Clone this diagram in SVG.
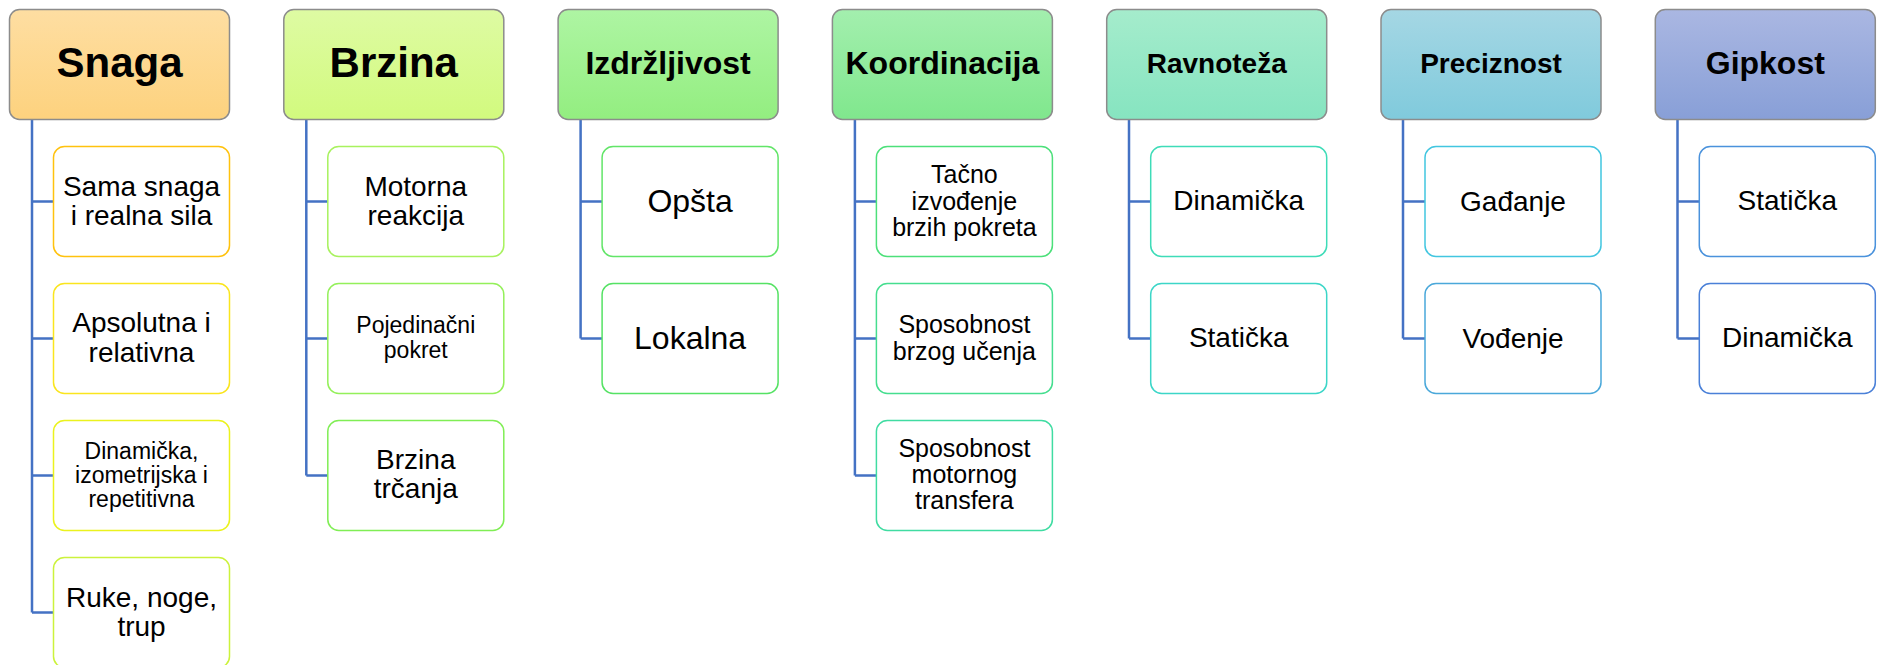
<svg xmlns="http://www.w3.org/2000/svg" width="1878" height="665" viewBox="0 0 1878 665">
<defs>
<linearGradient id="g0" x1="0" y1="0" x2="0" y2="1"><stop offset="0" stop-color="#FEDEA2"/><stop offset="1" stop-color="#FDD27E"/></linearGradient>
<linearGradient id="g1" x1="0" y1="0" x2="0" y2="1"><stop offset="0" stop-color="#DEFBA3"/><stop offset="1" stop-color="#D2FA7E"/></linearGradient>
<linearGradient id="g2" x1="0" y1="0" x2="0" y2="1"><stop offset="0" stop-color="#AEF5A3"/><stop offset="1" stop-color="#93EE80"/></linearGradient>
<linearGradient id="g3" x1="0" y1="0" x2="0" y2="1"><stop offset="0" stop-color="#A3EFAE"/><stop offset="1" stop-color="#80E78D"/></linearGradient>
<linearGradient id="g4" x1="0" y1="0" x2="0" y2="1"><stop offset="0" stop-color="#A5ECCC"/><stop offset="1" stop-color="#86E4C0"/></linearGradient>
<linearGradient id="g5" x1="0" y1="0" x2="0" y2="1"><stop offset="0" stop-color="#A5D7E4"/><stop offset="1" stop-color="#80CADC"/></linearGradient>
<linearGradient id="g6" x1="0" y1="0" x2="0" y2="1"><stop offset="0" stop-color="#AAB7E2"/><stop offset="1" stop-color="#889FD7"/></linearGradient>
</defs>
<style>
.hd{stroke:#8C8C8C;stroke-width:1.5}
.ch{fill:#FFFFFF;stroke-width:1.5}
.conn{fill:none;stroke:#4472C4;stroke-width:2.5}
text{font-family:"Liberation Sans",Arial,sans-serif;fill:#000;text-anchor:middle}
.ht{font-weight:bold}
</style>
<rect width="1878" height="665" fill="#FFFFFF"/>
<g id="connectors">
<path class="conn" d="M32 119V612.5M32 201.5H53M32 338.5H53M32 475.5H53M32 612.5H53"/>
<path class="conn" d="M306.3 119V475.5M306.3 201.5H328M306.3 338.5H328M306.3 475.5H328"/>
<path class="conn" d="M580.6 119V338.5M580.6 201.5H602M580.6 338.5H602"/>
<path class="conn" d="M854.9 119V475.5M854.9 201.5H876M854.9 338.5H876M854.9 475.5H876"/>
<path class="conn" d="M1129 119V338.5M1129 201.5H1151M1129 338.5H1151"/>
<path class="conn" d="M1403 119V338.5M1403 201.5H1425M1403 338.5H1425"/>
<path class="conn" d="M1677.5 119V338.5M1677.5 201.5H1699M1677.5 338.5H1699"/>
</g>
<g id="snaga"><rect class="hd" x="9.5" y="9.5" width="220" height="110" rx="10" fill="url(#g0)"/><text class="ht" x="119.5" y="77" font-size="42">Snaga</text></g>
<g id="snaga-1"><rect class="ch" x="53.5" y="146.5" width="176" height="110" rx="11" stroke="#FFC20E"/><text x="141.5" y="196" font-size="28">Sama snaga</text><text x="141.5" y="225" font-size="28">i realna sila</text></g>
<g id="snaga-2"><rect class="ch" x="53.5" y="283.5" width="176" height="110" rx="11" stroke="#FAE51E"/><text x="141.5" y="332" font-size="28">Apsolutna i</text><text x="141.5" y="362" font-size="28">relativna</text></g>
<g id="snaga-3"><rect class="ch" x="53.5" y="420.5" width="176" height="110" rx="11" stroke="#EBF21E"/><text x="141.5" y="459" font-size="23">Dinamička,</text><text x="141.5" y="483" font-size="23">izometrijska i</text><text x="141.5" y="507" font-size="23">repetitivna</text></g>
<g id="snaga-4"><rect class="ch" x="53.5" y="557.5" width="176" height="110" rx="11" stroke="#CCF23C"/><text x="141.5" y="607" font-size="28">Ruke, noge,</text><text x="141.5" y="636" font-size="28">trup</text></g>

<g id="brzina"><rect class="hd" x="283.8" y="9.5" width="220" height="110" rx="10" fill="url(#g1)"/><text class="ht" x="393.8" y="77" font-size="42">Brzina</text></g>
<g id="brzina-1"><rect class="ch" x="327.8" y="146.5" width="176" height="110" rx="11" stroke="#A8F25E"/><text x="415.8" y="196" font-size="28">Motorna</text><text x="415.8" y="225" font-size="28">reakcija</text></g>
<g id="brzina-2"><rect class="ch" x="327.8" y="283.5" width="176" height="110" rx="11" stroke="#94F05A"/><text x="415.8" y="333" font-size="23">Pojedinačni</text><text x="415.8" y="358" font-size="23">pokret</text></g>
<g id="brzina-3"><rect class="ch" x="327.8" y="420.5" width="176" height="110" rx="11" stroke="#80EE55"/><text x="415.8" y="469" font-size="28">Brzina</text><text x="415.8" y="498" font-size="28">trčanja</text></g>

<g id="izdrzljivost"><rect class="hd" x="558.1" y="9.5" width="220" height="110" rx="10" fill="url(#g2)"/><text class="ht" x="668.1" y="74" font-size="32">Izdržljivost</text></g>
<g id="izdrzljivost-1"><rect class="ch" x="602.1" y="146.5" width="176" height="110" rx="11" stroke="#62E568"/><text x="690.1" y="212" font-size="32">Opšta</text></g>
<g id="izdrzljivost-2"><rect class="ch" x="602.1" y="283.5" width="176" height="110" rx="11" stroke="#55E264"/><text x="690.1" y="349" font-size="32">Lokalna</text></g>

<g id="koordinacija"><rect class="hd" x="832.4" y="9.5" width="220" height="110" rx="10" fill="url(#g3)"/><text class="ht" x="942.4" y="74" font-size="32">Koordinacija</text></g>
<g id="koordinacija-1"><rect class="ch" x="876.4" y="146.5" width="176" height="110" rx="11" stroke="#4CE07A"/><text x="964.4" y="183" font-size="25">Tačno</text><text x="964.4" y="209.5" font-size="25">izvođenje</text><text x="964.4" y="236" font-size="25">brzih pokreta</text></g>
<g id="koordinacija-2"><rect class="ch" x="876.4" y="283.5" width="176" height="110" rx="11" stroke="#45DE8F"/><text x="964.4" y="333" font-size="25">Sposobnost</text><text x="964.4" y="360" font-size="25">brzog učenja</text></g>
<g id="koordinacija-3"><rect class="ch" x="876.4" y="420.5" width="176" height="110" rx="11" stroke="#40DCA2"/><text x="964.4" y="457" font-size="25">Sposobnost</text><text x="964.4" y="483" font-size="25">motornog</text><text x="964.4" y="509" font-size="25">transfera</text></g>

<g id="ravnoteza"><rect class="hd" x="1106.7" y="9.5" width="220" height="110" rx="10" fill="url(#g4)"/><text class="ht" x="1216.7" y="73" font-size="28">Ravnoteža</text></g>
<g id="ravnoteza-1"><rect class="ch" x="1150.7" y="146.5" width="176" height="110" rx="11" stroke="#3EDCB8"/><text x="1238.7" y="210" font-size="28">Dinamička</text></g>
<g id="ravnoteza-2"><rect class="ch" x="1150.7" y="283.5" width="176" height="110" rx="11" stroke="#3CD6C8"/><text x="1238.7" y="347" font-size="28">Statička</text></g>

<g id="preciznost"><rect class="hd" x="1381" y="9.5" width="220" height="110" rx="10" fill="url(#g5)"/><text class="ht" x="1491" y="73" font-size="28">Preciznost</text></g>
<g id="preciznost-1"><rect class="ch" x="1425" y="146.5" width="176" height="110" rx="11" stroke="#42C6E0"/><text x="1513" y="211" font-size="28">Gađanje</text></g>
<g id="preciznost-2"><rect class="ch" x="1425" y="283.5" width="176" height="110" rx="11" stroke="#4AA8DA"/><text x="1513" y="348" font-size="28">Vođenje</text></g>

<g id="gipkost"><rect class="hd" x="1655.3" y="9.5" width="220" height="110" rx="10" fill="url(#g6)"/><text class="ht" x="1765.3" y="74" font-size="32">Gipkost</text></g>
<g id="gipkost-1"><rect class="ch" x="1699.3" y="146.5" width="176" height="110" rx="11" stroke="#4A92DC"/><text x="1787.3" y="210" font-size="28">Statička</text></g>
<g id="gipkost-2"><rect class="ch" x="1699.3" y="283.5" width="176" height="110" rx="11" stroke="#4A80D8"/><text x="1787.3" y="347" font-size="28">Dinamička</text></g>
</svg>
